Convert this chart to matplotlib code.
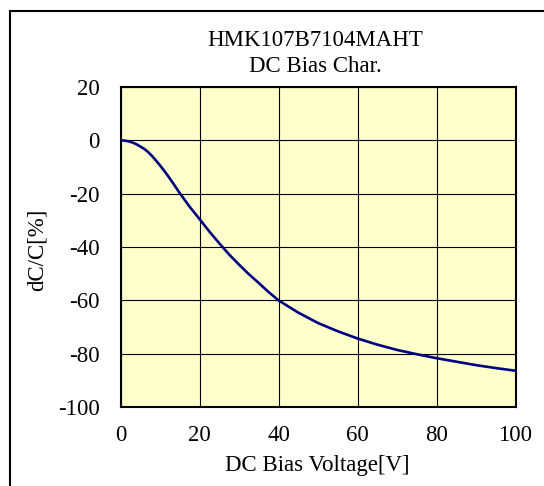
import matplotlib
matplotlib.use("Agg")
import matplotlib.pyplot as plt
from matplotlib.lines import Line2D

# Data
voltage = [0, 1, 2, 3, 4, 5, 6, 7, 8, 9, 10, 11, 12, 13, 14, 15, 17.5, 20, 22.5, 25, 27.5,
           30, 32.5, 35, 37.5, 40, 45, 50, 55, 60, 65, 70, 75, 80, 85, 90, 95, 100]
dcc = [0, -0.1, -0.35, -0.8, -1.45, -2.3, -3.2, -4.4, -5.9, -7.6, -9.4, -11.3, -13.3, -15.4,
       -17.6, -19.8, -24.9, -29.5, -34.2, -38.6, -42.8, -46.6, -50.2, -53.5, -56.9, -60.0,
       -64.6, -68.5, -71.6, -74.3, -76.6, -78.6, -80.2, -81.7, -83.0, -84.3, -85.4, -86.4]
x_ticks = [0, 20, 40, 60, 80, 100]
y_ticks = [-100, -80, -60, -40, -20, 0, 20]
title_lines = ["HMK107B7104MAHT", "DC Bias Char."]
x_label = "DC Bias Voltage[V]"
y_label = "dC/C[%]"

W, H = 544, 486
fig = plt.figure(figsize=(W / 100, H / 100), dpi=100)
plt.rcParams['font.family'] = ['Liberation Serif', 'DejaVu Serif']

left, right, top, bottom = 120.5, 515.5, 87, 407
ax = fig.add_axes([left / W, 1 - bottom / H, (right - left) / W, (bottom - top) / H])
ax.set_facecolor('#FFFFCC')
ax.plot(voltage, dcc, color='#000080', lw=1.9, zorder=3, solid_joinstyle='round')
ax.set_xlim(0, 100)
ax.set_ylim(-100, 20)
ax.set_xticks(x_ticks)
ax.set_yticks(y_ticks)
ax.set_yticklabels([str(v) for v in y_ticks])
ax.grid(True, color='black', lw=0.8)
ax.set_axisbelow(True)
for s in ax.spines.values():
    s.set_linewidth(1.5)
    s.set_color('black')
ax.tick_params(length=0, labelsize=16.5, colors='black')
ax.tick_params(axis='y', pad=15)
ax.tick_params(axis='x', pad=13)

fig.text(315 / W, 1 - 40 / H, title_lines[0], ha='center', va='center', fontsize=16.5)
fig.text(315 / W, 1 - 66 / H, title_lines[1], ha='center', va='center', fontsize=16.5)
fig.text(317 / W, 1 - 465 / H, x_label, ha='center', va='center', fontsize=16.5)
fig.text(37 / W, 1 - 250 / H, y_label, ha='center', va='center', fontsize=16.5, rotation=90)

# outer frame (left and top edges visible)
x0 = 9.5 / W
y1 = 1 - 11 / H
fig.add_artist(Line2D([x0, x0], [0, y1], color='black', lw=1.5))
fig.add_artist(Line2D([x0, 1], [y1, y1], color='black', lw=1.5))

fig.savefig("out.png", dpi=100)
